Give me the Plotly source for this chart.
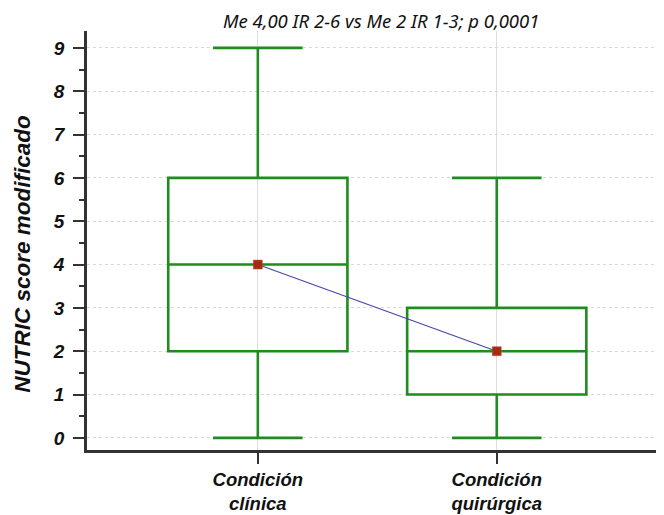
import plotly.graph_objects as go

categories = ["Condición<br>clínica", "Condición<br>quirúrgica"]
positions = [0, 1]
q1 = [2, 1]
median = [4, 2]
q3 = [6, 3]
lower = [0, 0]
upper = [9, 6]
title_text = "Me 4,00 IR 2-6 vs Me 2 IR 1-3; p 0,0001"
y_title = "NUTRIC score modificado"

green = "#1E8C1E"
fig = go.Figure()
for i in range(len(categories)):
    fig.add_trace(go.Box(
        x=[positions[i]], q1=[q1[i]], median=[median[i]], q3=[q3[i]],
        lowerfence=[lower[i]], upperfence=[upper[i]],
        width=0.75, whiskerwidth=0.5,
        line=dict(color=green, width=2.6), fillcolor="rgba(255,255,255,0)",
        boxpoints=False, showlegend=False, hoverinfo="skip"))

fig.add_trace(go.Scatter(
    x=positions, y=median, mode="lines+markers",
    line=dict(color="#4848A8", width=1.2),
    marker=dict(symbol="square", size=9, color="#A52A0E", line=dict(color="#C05050", width=0.5)),
    showlegend=False))

font_x = dict(family="Liberation Sans, Arial", size=18.5, color="#111111")
font_y = dict(family="Liberation Sans, Arial", size=19, color="#111111")
fig.update_layout(
    width=664, height=515,
    margin=dict(l=79, r=8, t=23, b=73, autoexpand=False),
    paper_bgcolor="white", plot_bgcolor="white",
    title=dict(text="<i>" + title_text + "</i>", x=0.562, xanchor="center", y=0.973, yanchor="middle",
               font=dict(family="Noto Sans, Open Sans", size=18.5, color="#111111")),
    xaxis=dict(range=[-0.715, 1.7], tickvals=positions, automargin=False,
               ticktext=["<b><i>" + c.replace("<br>", "</i></b><br><b><i>") + "</i></b>" for c in categories],
               tickfont=font_x, ticks="outside", ticklen=11, tickwidth=1.5, tickcolor="#333333",
               ticklabelstandoff=0,
               showline=True, linecolor="#333333", linewidth=2.5,
               showgrid=True, gridcolor="#DDDDDD", griddash="solid", gridwidth=1, zeroline=False),
    yaxis=dict(range=[-0.28, 9.39], tickvals=list(range(10)), automargin=False,
               ticktext=["<b><i>%d</i></b>" % v for v in range(10)],
               tickfont=font_y, ticks="outside", ticklen=11, tickwidth=1.5, tickcolor="#333333",
               ticklabelstandoff=5,
               minor=dict(dtick=0.5, tick0=0, ticks="outside", ticklen=5, tickcolor="#333333", showgrid=False),
               showline=True, linecolor="#333333", linewidth=2.5,
               showgrid=True, gridcolor="#D8D8D8", griddash="dot", gridwidth=1, zeroline=False),
    annotations=[dict(text="<b><i>" + y_title + "</i></b>",
                      font=dict(family="Liberation Sans, Arial", size=22.5, color="#111111"), textangle=-90,
                      xref="paper", yref="paper", x=-0.112, y=0.469,
                      xanchor="center", yanchor="middle", showarrow=False)],
)
fig.write_html("out.html")
